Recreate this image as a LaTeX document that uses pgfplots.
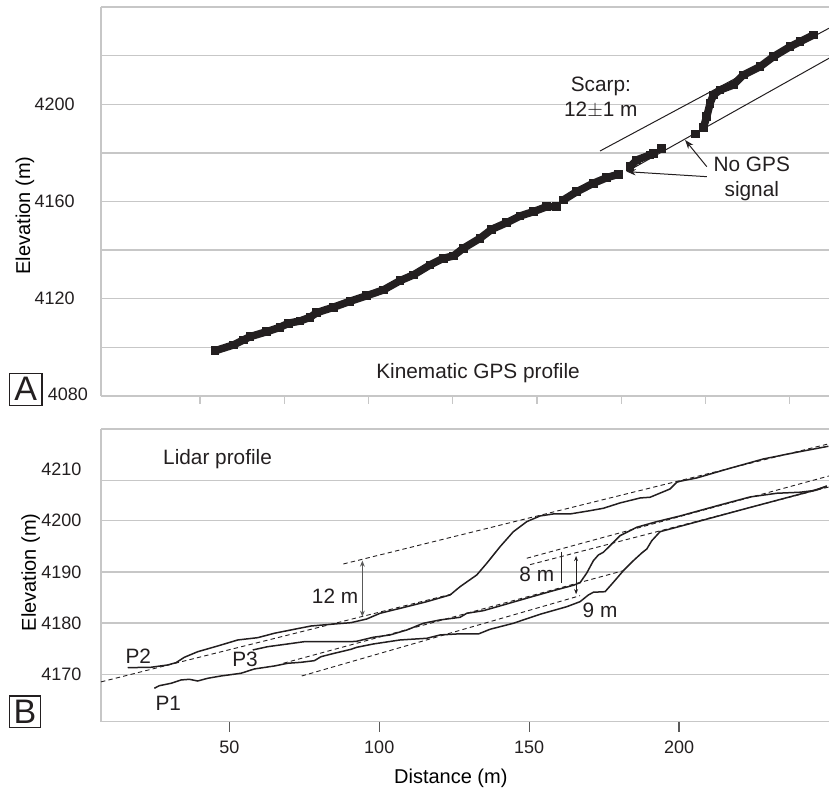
\documentclass[border=0pt]{standalone}
\usepackage{pgfplots}
\pgfplotsset{compat=1.18}
\usepackage{fontspec}
\setmainfont{Liberation Sans}
\usetikzlibrary{arrows.meta}
\definecolor{gridgray}{gray}{0.78}
\definecolor{tickgray}{gray}{0.35}
\definecolor{ink}{HTML}{231F20}
\newcommand{\annfont}{\fontsize{10.4}{12.5}\selectfont}
\begin{document}
\begin{tikzpicture}
\useasboundingbox (0,0) rectangle (414.5pt,395.5pt);
\pgfplotsset{
  panel/.style={
    scale only axis, width=364pt, xmin=7.2, xmax=250,
    axis x line*=bottom, axis y line*=left,
    axis line style={draw=gridgray, line width=0.65pt, -},
    /pgf/number format/assume math mode=true,
    /pgf/number format/1000 sep={},
    tick label style={font=\fontsize{9}{10}\selectfont, text=ink},
    label style={font=\annfont, text=ink},
    clip=false,
    grid style={gridgray, line width=0.65pt},
    tick align=outside,
  }
}
% ---------------- Panel A ----------------
\begin{axis}[panel, at={(50.5pt,197.5pt)}, anchor=south west, height=194.5pt,
  ymin=4080, ymax=4240,
  ytick={4080,4100,4120,4140,4160,4180,4200,4220,4240},
  yticklabels={{},{},4120,{},4160,{},4200,{},{}},
  ymajorgrids, ytick style={draw=none},
  yticklabel style={anchor=east, inner sep=0pt, xshift=-9pt},
  xtick={40.2,68.3,96.4,124.5,152.6,180.7,208.8,236.9}, xticklabels={},
  xtick style={draw=gridgray, line width=0.65pt}, major tick length=4pt,
  ylabel={Elevation (m)},
  every axis y label/.style={at={(rel axis cs:-0.1044,0.464)}, anchor=center, rotate=90},
]
\addplot[ink, line width=3.8pt, line join=round, mark=square*, mark size=1.9pt,
  mark options={solid, line width=0pt}, unbounded coords=jump] coordinates {
(45.23,4098.6) (51.33,4100.98) (54.67,4103.04) (56.9,4104.39) (62.47,4106.45)
(66.91,4108.26) (69.68,4109.91) (73.58,4110.85) (76.92,4112.37) (79.15,4114.27)
(84.69,4116.49) (90.26,4118.96) (95.83,4121.26) (101.37,4123.6) (106.94,4127.43)
(111.37,4129.77) (116.94,4133.89) (121.38,4136.64) (124.72,4137.59) (128.05,4140.76)
(133.62,4144.87) (137.52,4148.57) (142.53,4151.29) (146.97,4154.04) (151.4,4155.81)
(155.87,4157.87) (159.21,4157.87)
(160.3,nan)
(161.41,4160.63) (165.88,4164.04) (171.42,4167.5) (175.89,4169.8) (179.75,4171.2)
(181.5,nan)
(183.66,4174.32) (185.89,4177.08) (190.33,4179.14) (191.43,4179.83)
(192.8,nan)
(194.23,4181.89)
(200,nan)
(205.57,4187.77)
(207,nan)
(208.11,4190.53) (209.24,4194.89) (210.34,4200.4) (211.44,4203.82) (213.68,4205.88)
(218.11,4207.93) (221.45,4212.05) (227.02,4215.46) (231.46,4219.58) (237.03,4223.69)
(240.36,4225.74) (244.8,4228.5)
};
\addplot[ink, line width=0.5pt] coordinates {(173.65,4180.78) (250,4231.26)};
\addplot[ink, line width=0.5pt] coordinates {(182.55,4172.27) (250,4218.91)};
\node[font=\fontsize{9}{10}\selectfont, text=ink, anchor=east, inner sep=0pt] at (axis cs:3.0,4080.9) {4080};
\node[font=\annfont, text=ink, align=center, inner sep=0pt] at (axis cs:173.9,4202.7) {Scarp:\\[0pt]12$\pm$1 m};
\node[font=\annfont, text=ink, align=center, inner sep=0pt] at (axis cs:224.25,4169.18) {\fontsize{10.4}{9.4}\selectfont No GPS\\signal};
\draw[ink, line width=0.5pt, -{Stealth[length=4.5pt,width=3.2pt]}] (axis cs:209.24,4174.32) -- (axis cs:202.0,4185.31);
\draw[ink, line width=0.5pt, -{Stealth[length=4.5pt,width=3.2pt]}] (axis cs:209.24,4170.21) -- (axis cs:182.56,4172.27);
\node[font=\annfont, text=ink] at (axis cs:132.96,4089.34) {Kinematic GPS profile};
\end{axis}
% ---------------- Panel B ----------------
\begin{axis}[panel, at={(50.5pt,34.65pt)}, anchor=south west, height=146.35pt,
  ymin=4160.74, ymax=4217.9,
  ytick={4170,4180,4190,4200,4210}, ytick style={draw=none},
  yticklabel style={anchor=east, inner sep=0pt, xshift=-4.6pt},
  extra y ticks={4170,4180,4190,4200,4207.8,4217.9}, extra y tick labels={},
  extra y tick style={grid=major, major tick length=0pt},
  xtick={50,100,150,200}, xtick style={draw=tickgray, line width=0.65pt}, major tick length=5pt,
  xticklabel style={yshift=-1pt},
  xlabel={Distance (m)},
  every axis x label/.style={at={(rel axis cs:0.4805,-0.1934)}, anchor=center},
  ylabel={Elevation (m)},
  every axis y label/.style={at={(rel axis cs:-0.0964,0.510)}, anchor=center, rotate=90},
]
% dashed reference lines
\addplot[ink, line width=0.45pt, dash pattern=on 2.2pt off 1.6pt] coordinates {(88.03,4191.54) (250,4215.02)};
\addplot[ink, line width=0.45pt, dash pattern=on 2.2pt off 1.6pt] coordinates {(7.2,4168.52) (124.29,4185.68)};
\addplot[ink, line width=0.45pt, dash pattern=on 2.2pt off 1.6pt] coordinates {(149.2,4192.66) (250,4208.73)};
\addplot[ink, line width=0.45pt, dash pattern=on 2.2pt off 1.6pt] coordinates {(150.3,4191.41) (250,4206.58)};
\addplot[ink, line width=0.45pt, dash pattern=on 2.2pt off 1.6pt] coordinates {(68.02,4172.15) (181.43,4190.24)};
\addplot[ink, line width=0.45pt, dash pattern=on 2.2pt off 1.6pt] coordinates {(74.15,4169.67) (166.98,4185.35)};
% P2
\addplot[ink, line width=0.75pt] coordinates {
(16.12,4171.29) (23.89,4171.37) (29.46,4171.82) (32.23,4172.27) (35.0,4173.32)
(39.46,4174.41) (46.14,4175.53) (52.81,4176.7) (59.48,4177.15) (65.01,4178.01)
(71.69,4178.79) (77.26,4179.43) (85.03,4179.82) (90.6,4180.08) (95.84,4180.8)
(100.27,4181.91) (109.18,4183.2) (115.85,4184.18) (123.62,4185.49) (126.96,4187.11)
(132.53,4189.4) (135.86,4191.68) (140.3,4194.92) (144.73,4197.85) (149.2,4199.81)
(153.64,4200.92) (158.08,4201.31) (163.65,4201.31) (170.32,4201.95) (174.75,4202.42)
(180.32,4203.46) (187.0,4204.43) (190.33,4204.57) (197.0,4206.19) (199.24,4207.5)
(200.34,4207.7) (205.91,4208.34) (217.02,4210.24) (228.12,4212.05) (239.26,4213.36)
(249.8,4214.53)
};
% P3
\addplot[ink, line width=0.75pt] coordinates {
(57.81,4174.75) (62.81,4175.39) (69.48,4175.92) (75.02,4176.37) (82.83,4176.37)
(90.6,4176.37) (92.5,4176.45) (98.04,4177.23) (103.61,4177.68) (109.18,4178.65)
(114.71,4179.96) (120.28,4180.61) (126.96,4181.13) (129.19,4181.91) (134.73,4182.42)
(142.53,4183.73) (150.3,4185.04) (158.08,4186.33) (164.75,4187.38) (166.98,4187.89)
(169.22,4189.79) (171.42,4192.19) (173.09,4193.3) (174.75,4193.83) (176.99,4195.12)
(180.32,4197.07) (185.89,4198.71) (192.57,4199.81) (200.34,4200.92) (213.68,4203.07)
(223.69,4204.63) (232.59,4205.35) (240.36,4205.55) (245.37,4205.9) (249.27,4206.78)
};
% P1
\addplot[ink, line width=0.75pt] coordinates {
(24.99,4167.27) (26.66,4167.77) (30.56,4168.24) (33.89,4168.89) (36.66,4169.02)
(39.46,4168.69) (42.8,4169.22) (47.24,4169.67) (53.91,4170.2) (58.34,4171.04)
(65.01,4171.62) (69.48,4172.15) (73.92,4172.34) (78.36,4172.66) (80.59,4173.44)
(85.03,4174.1) (90.6,4174.88) (92.5,4175.27) (98.04,4175.92) (106.94,4176.7)
(115.85,4177.03) (120.28,4177.68) (125.85,4177.87) (133.06,4177.87) (136.96,4178.79)
(144.73,4179.96) (153.64,4181.72) (162.55,4183.2) (166.98,4184.18) (169.75,4185.49)
(171.42,4186.02) (175.32,4186.13) (178.09,4187.97) (181.43,4190.24) (184.76,4192.19)
(187.56,4193.69) (189.23,4194.47) (190.9,4196.09) (193.67,4197.85) (207.01,4199.94)
(223.69,4202.58) (233.69,4204.14) (243.7,4205.7) (249.27,4206.68)
};
% offsets
\draw[tickgray, line width=0.6pt, {Stealth[length=3pt,width=2.4pt]}-{Stealth[length=3pt,width=2.4pt]}] (axis cs:94.37,4192.19) -- (axis cs:94.37,4181.25);
\draw[ink, line width=0.5pt] (axis cs:160.65,4193.95) -- (axis cs:160.65,4187.77);
\draw[ink, line width=0.5pt, {Stealth[length=2.6pt,width=2pt]}-{Stealth[length=2.6pt,width=2pt]}] (axis cs:165.65,4193.11) -- (axis cs:165.65,4185.63);
\node[font=\annfont, text=ink] at (axis cs:85.26,4185.29) {12 m};
\node[font=\annfont, text=ink] at (axis cs:152.54,4189.59) {8 m};
\node[font=\annfont, text=ink] at (axis cs:173.65,4182.42) {9 m};
\node[font=\annfont, text=ink] at (axis cs:46.07,4211.99) {Lidar profile};
\node[font=\annfont, text=ink] at (axis cs:19.65,4173.44) {P2};
\node[font=\annfont, text=ink] at (axis cs:55.24,4172.93) {P3};
\node[font=\annfont, text=ink] at (axis cs:29.66,4164.34) {P1};
\end{axis}
% panel letters
\node[draw=ink, line width=0.6pt, minimum width=16.3pt, minimum height=16pt, inner sep=0pt,
  font=\fontsize{17}{17}\selectfont, text=ink] at (12.85pt,200.85pt) {A};
\node[draw=ink, line width=0.6pt, minimum width=15.7pt, minimum height=15.7pt, inner sep=0pt,
  font=\fontsize{17}{17}\selectfont, text=ink] at (12.5pt,39.65pt) {B};
\end{tikzpicture}
\end{document}
